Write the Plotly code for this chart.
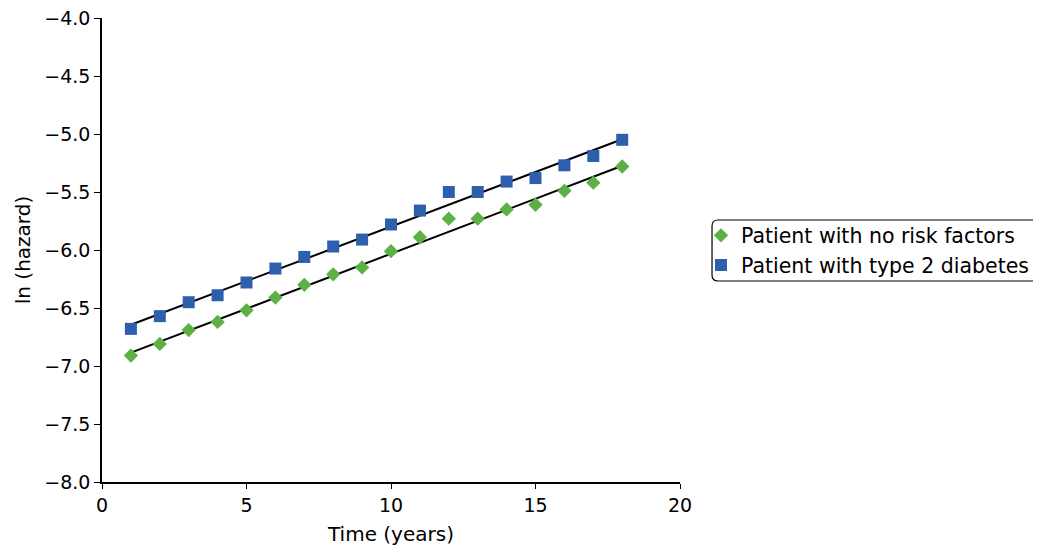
import numpy as np
import plotly.graph_objects as go

years = list(range(1, 19))
no_risk = [-6.91, -6.81, -6.69, -6.62, -6.52, -6.41, -6.30, -6.21, -6.15,
           -6.01, -5.89, -5.73, -5.73, -5.65, -5.61, -5.49, -5.42, -5.28]
diabetes = [-6.68, -6.57, -6.45, -6.39, -6.28, -6.16, -6.06, -5.97, -5.91,
            -5.78, -5.66, -5.50, -5.50, -5.41, -5.38, -5.27, -5.19, -5.05]

green = "#5BB143"
blue = "#2E5FAC"
font = "DejaVu Sans, sans-serif"

fig = go.Figure()
x = np.array(years, dtype=float)
for ys in (no_risk, diabetes):
    m, b = np.polyfit(x, np.array(ys), 1)
    fig.add_trace(go.Scatter(x=[x[0], x[-1]], y=[m * x[0] + b, m * x[-1] + b],
                             mode="lines", line=dict(color="black", width=2),
                             showlegend=False, hoverinfo="skip"))

fig.add_trace(go.Scatter(x=years, y=no_risk, mode="markers", name="Patient with no risk factors",
                         marker=dict(symbol="diamond", size=11, color=green)))
fig.add_trace(go.Scatter(x=years, y=diabetes, mode="markers", name="Patient with type 2 diabetes",
                         marker=dict(symbol="square", size=12, color=blue)))

# rounded legend frame (paper coordinates), open on the right where the image cuts it
x0, x1, y0, y1 = 1.0554, 1.64, 0.4332, 0.5647
rx, ry = 0.0104, 0.0129
path = (f"M {x1},{y0} L {x0+rx},{y0} Q {x0},{y0} {x0},{y0+ry} "
        f"L {x0},{y1-ry} Q {x0},{y1} {x0+rx},{y1} L {x1},{y1}")
fig.add_shape(type="path", xref="paper", yref="paper", path=path,
              line=dict(color="black", width=1.2), layer="above")

fig.update_layout(
    width=1033, height=539,
    margin=dict(l=94, r=361, t=10, b=65, autoexpand=False),
    plot_bgcolor="white", paper_bgcolor="white",
    font=dict(family=font, size=19, color="black"),
    legend=dict(x=1.0363, y=0.499, xanchor="left", yanchor="middle",
                borderwidth=0, bgcolor="rgba(0,0,0,0)", font=dict(size=20.5),
                itemwidth=30, tracegroupgap=0),
)
fig.update_xaxes(range=[0, 20], tickvals=[0, 5, 10, 15, 20], showgrid=False, zeroline=False,
                 showline=True, linecolor="black", linewidth=1.5, automargin=False,
                 ticks="outside", ticklen=5, tickcolor="black", ticklabeloverflow="allow",
                 title=dict(text="Time (years)", standoff=12, font=dict(size=20)))
fig.update_yaxes(range=[-8, -4], tickvals=[-8, -7.5, -7, -6.5, -6, -5.5, -5, -4.5, -4],
                 tickformat=".1f", showgrid=False, zeroline=False,
                 showline=True, linecolor="black", linewidth=1.5, automargin=False,
                 ticks="outside", ticklen=6, tickcolor="black", ticklabeloverflow="allow",
                 title=dict(text="ln (hazard)", standoff=8, font=dict(size=20)))

fig.write_html("out.html")
